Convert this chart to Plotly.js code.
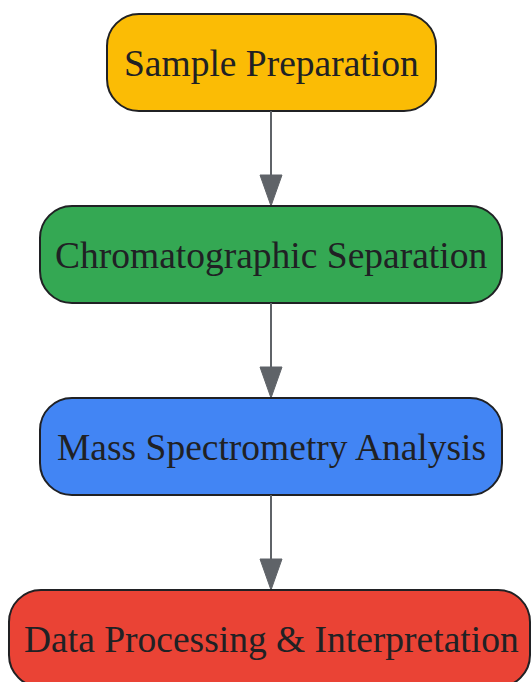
<!DOCTYPE html>
<html>
<head>
<meta charset="utf-8">
<script src="https://cdn.plot.ly/plotly-3.0.1.min.js"></script>
<style>html,body{margin:0;padding:0;background:#fff;}#chart{width:531px;height:682px;}</style>
</head>
<body>
<div id="chart"></div>
<script>
// ---- data ----
const steps = ["Sample Preparation", "Chromatographic Separation", "Mass Spectrometry Analysis", "Data Processing & Interpretation"];
const stepColors = ["#FBBC05", "#34A853", "#4285F4", "#EA4335"];

// ---- layout constants ----
const W = 531, H = 682;
const boxLeft = [107, 40, 40, 9];
const boxRight = [436, 502, 502, 530];
const firstTop = 14, boxH = 97, rowStep = 192, radius = 32;
const arrowX = 271, headW = 22, headH = 31, textX = 271;
const borderColor = "#202124", arrowColor = "#5f6368", textColor = "#202124";

function roundRect(x0, y0, x1, y1, r) {
  const k = r * 0.4477; // control offset from corner for circular arc approx
  return `M ${x0 + r},${y0} L ${x1 - r},${y0} C ${x1 - k},${y0} ${x1},${y0 + k} ${x1},${y0 + r} ` +
         `L ${x1},${y1 - r} C ${x1},${y1 - k} ${x1 - k},${y1} ${x1 - r},${y1} L ${x0 + r},${y1} ` +
         `C ${x0 + k},${y1} ${x0},${y1 - k} ${x0},${y1 - r} L ${x0},${y0 + r} C ${x0},${y0 + k} ${x0 + k},${y0} ${x0 + r},${y0} Z`;
}

const shapes = [], annotations = [];
steps.forEach((s, i) => {
  const top = firstTop + i * rowStep, bot = top + boxH;
  shapes.push({type: "path", xref: "x", yref: "y", path: roundRect(boxLeft[i], top, boxRight[i], bot, radius),
    fillcolor: stepColors[i], line: {color: borderColor, width: 2}, layer: "above"});
  annotations.push({x: textX, y: top + boxH / 2 + 1, xref: "x", yref: "y", text: s,
    showarrow: false, xanchor: "center", yanchor: "middle",
    font: {family: "Liberation Serif, Times New Roman, serif", size: 37.5, color: textColor}});
  if (i < steps.length - 1) {
    const nextTop = firstTop + (i + 1) * rowStep;
    shapes.push({type: "line", xref: "x", yref: "y", x0: arrowX, x1: arrowX, y0: bot, y1: nextTop - headH + 2,
      line: {color: arrowColor, width: 2}});
    shapes.push({type: "path", xref: "x", yref: "y",
      path: `M ${arrowX - headW / 2},${nextTop - headH} L ${arrowX + headW / 2},${nextTop - headH} L ${arrowX},${nextTop} Z`,
      fillcolor: arrowColor, line: {color: arrowColor, width: 1}});
  }
});

Plotly.newPlot("chart", [], {
  width: W, height: H,
  margin: {l: 0, r: 0, t: 0, b: 0},
  paper_bgcolor: "#ffffff", plot_bgcolor: "#ffffff",
  xaxis: {range: [0, W], visible: false, fixedrange: true},
  yaxis: {range: [H, 0], visible: false, fixedrange: true},
  showlegend: false,
  shapes: shapes,
  annotations: annotations
}, {displayModeBar: false, staticPlot: true});
</script>
</body>
</html>
